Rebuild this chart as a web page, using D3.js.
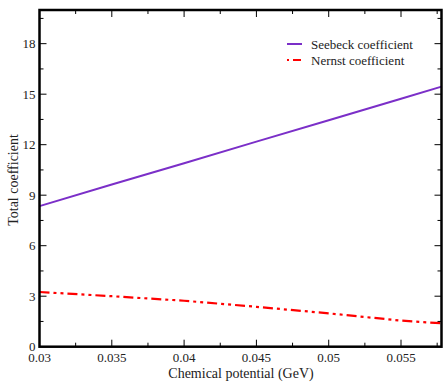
<!DOCTYPE html>
<html><head><meta charset="utf-8">
<script src="https://cdn.jsdelivr.net/npm/d3@7"></script>
<style>body{margin:0;background:#fff}svg{display:block}</style>
</head><body><svg id="c" width="443" height="383" font-family="'Liberation Serif','Times New Roman',Times,'DejaVu Serif',serif"></svg>
<script>
const mu = [0.03, 0.035, 0.04, 0.045, 0.05, 0.055, 0.0578];
const seebeck = [8.35, 9.63, 10.9, 12.18, 13.45, 14.73, 15.45];
const nernst = [3.25, 3.0, 2.73, 2.37, 1.98, 1.55, 1.39];
const xTicks = [0.03, 0.035, 0.04, 0.045, 0.05, 0.055];
const yTicks = [0, 3, 6, 9, 12, 15, 18];
const seriesNames = ["Seebeck coefficient", "Nernst coefficient"];

const svg = d3.select("#c");
const L = 39.5, R = 441.5, T = 10, B = 346.7;
const x = d3.scaleLinear().domain([0.03, 0.0578]).range([L, R]);
const y = d3.scaleLinear().domain([0, 20]).range([B, T]);

const g = svg.append("g");
const xMinor = d3.range(0, 12).map(i => 0.03 + i * 0.0025);
const yMinor = d3.range(0, 14).map(i => i * 1.5);
xMinor.forEach((v, i) => {
  const len = (i % 2 === 0) ? 7 : 4;
  const px = x(v);
  g.append("line").attr("x1", px).attr("x2", px).attr("y1", B).attr("y2", B - len).attr("stroke", "#000");
  g.append("line").attr("x1", px).attr("x2", px).attr("y1", T).attr("y2", T + len).attr("stroke", "#000");
});
yMinor.forEach((v, i) => {
  const len = (i % 2 === 0) ? 7 : 4;
  const py = y(v);
  g.append("line").attr("x1", L).attr("x2", L + len).attr("y1", py).attr("y2", py).attr("stroke", "#000");
  g.append("line").attr("x1", R).attr("x2", R - len).attr("y1", py).attr("y2", py).attr("stroke", "#000");
});

xTicks.forEach(v => {
  g.append("text").attr("x", x(v)).attr("y", B + 15.5).attr("text-anchor", "middle").attr("font-size", 13).attr("fill", "#222").text(d3.format("")(v));
});
yTicks.forEach(v => {
  g.append("text").attr("x", L - 4).attr("y", y(v) + 4.5).attr("text-anchor", "end").attr("font-size", 13).attr("fill", "#222").text(v);
});

const line = d3.line().x((d, i) => x(mu[i])).y(d => y(d));
svg.append("path").datum(seebeck).attr("d", line).attr("fill", "none").attr("stroke", "#7b2fc8").attr("stroke-width", 2);
svg.append("path").datum(nernst).attr("d", line).attr("fill", "none").attr("stroke", "#ff0000").attr("stroke-width", 2.2).attr("stroke-dasharray", "10,4,3,4,3,4");

svg.append("rect").attr("x", L).attr("y", T).attr("width", R - L).attr("height", B - T).attr("fill", "none").attr("stroke", "#000").attr("stroke-width", 2.5);

svg.append("text").attr("x", 241).attr("y", 378).attr("text-anchor", "middle").attr("font-size", 14).attr("fill", "#222").text("Chemical potential (GeV)");
svg.append("text").attr("transform", "translate(18,180) rotate(-90)").attr("text-anchor", "middle").attr("font-size", 14).attr("fill", "#222").text("Total coefficient");

const leg = svg.append("g");
leg.append("line").attr("x1", 287).attr("x2", 302).attr("y1", 44).attr("y2", 44).attr("stroke", "#7b2fc8").attr("stroke-width", 2);
leg.append("line").attr("x1", 287).attr("x2", 302).attr("y1", 60).attr("y2", 60).attr("stroke", "#ff0000").attr("stroke-width", 2.2).attr("stroke-dasharray", "2,4,8,4");
leg.append("text").attr("x", 311).attr("y", 48.5).attr("font-size", 13).attr("fill", "#222").text(seriesNames[0]);
leg.append("text").attr("x", 311).attr("y", 64.5).attr("font-size", 13).attr("fill", "#222").text(seriesNames[1]);
</script></body></html>
